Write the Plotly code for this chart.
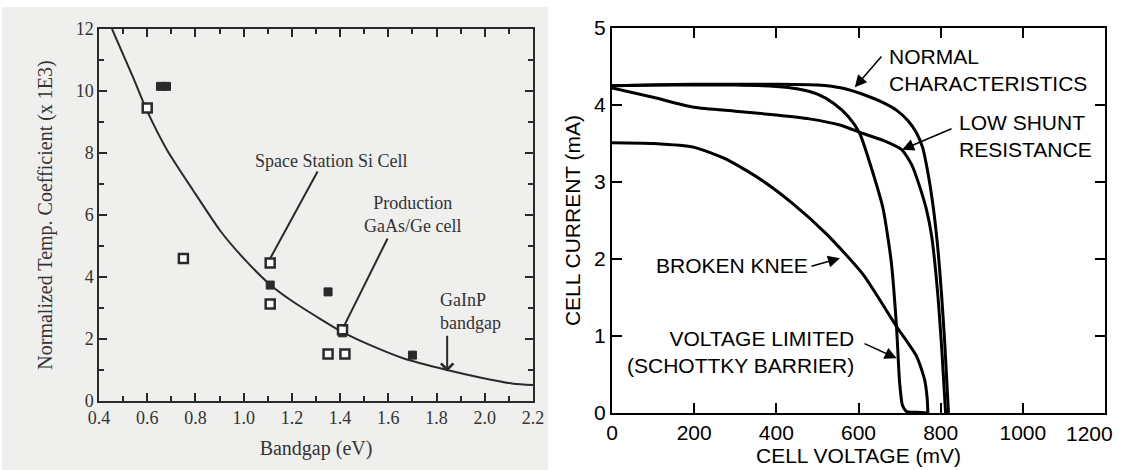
import plotly.graph_objects as go

# ---------------- Left panel data ----------------
fit_bandgap = [0.454, 0.541, 0.60, 0.682, 0.79, 0.902, 1.0, 1.11, 1.205, 1.317, 1.41, 1.525, 1.661, 1.844, 1.98, 2.118, 2.2]
fit_coeff = [12.0, 10.45, 9.35, 8.1, 6.8, 5.5, 4.6, 3.75, 3.2, 2.65, 2.22, 1.8, 1.38, 1.0, 0.76, 0.56, 0.52]

open_bandgap = [0.60, 0.75, 1.11, 1.11, 1.35, 1.41, 1.42]
open_coeff = [9.45, 4.6, 4.45, 3.13, 1.52, 2.3, 1.52]

filled_bandgap = [0.655, 0.68, 1.11, 1.35, 1.70, 1.41]
filled_coeff = [10.15, 10.15, 3.74, 3.52, 1.48, 2.2]

left_xticks = [0.4, 0.6, 0.8, 1.0, 1.2, 1.4, 1.6, 1.8, 2.0, 2.2]
left_xticklabels = ["0.4", "0.6", "0.8", "1.0", "1.2", "1.4", "1.6", "1.8", "2.0", "2.2"]
left_yticks = [0, 2, 4, 6, 8, 10, 12]

# ---------------- Right panel data ----------------
normal_v = [0, 100, 200, 300, 400, 500, 560, 620, 660, 693, 720, 740, 756, 768, 780, 792, 802, 810, 815, 819]
normal_i = [4.25, 4.26, 4.27, 4.27, 4.27, 4.26, 4.22, 4.12, 4.03, 3.93, 3.8, 3.65, 3.45, 3.15, 2.75, 2.2, 1.55, 0.9, 0.4, 0.0]

shunt_v = [0, 100, 200, 300, 400, 480, 555, 611, 660, 705, 730, 749, 765, 778, 792, 803, 812]
shunt_i = [4.22, 4.10, 3.97, 3.92, 3.87, 3.82, 3.74, 3.63, 3.54, 3.42, 3.22, 2.94, 2.65, 2.3, 1.6, 0.8, 0.0]

volt_v = [0, 100, 200, 300, 400, 450, 500, 540, 575, 603, 635, 660, 680, 693, 700, 707, 717, 740, 770]
volt_i = [4.25, 4.26, 4.26, 4.26, 4.24, 4.21, 4.14, 4.02, 3.85, 3.63, 3.12, 2.65, 1.95, 1.08, 0.4, 0.1, 0.02, 0.01, 0.0]

knee_v = [0, 100, 200, 280, 360, 440, 523, 611, 693, 742, 761, 767, 769]
knee_i = [3.51, 3.50, 3.45, 3.29, 3.04, 2.72, 2.32, 1.80, 1.12, 0.73, 0.43, 0.2, 0.0]

right_xticks = [0, 200, 400, 600, 800, 1000, 1200]
right_xticklabels = ["0", "200", "400", "600", "800", "1000", ""]   # last label placed as annotation (shifted inward)
right_yticks = [0, 1, 2, 3, 4, 5]

W, H = 1122, 470

def px_x(p):
    return p / W

def px_y(p):
    return 1 - p / H

SERIF = "Liberation Serif, Times New Roman, serif"
SANS = "Liberation Sans, Arial, Helvetica, sans-serif"
LCOL = "#2a2a2a"
TCOL = "#333333"

fig = go.Figure()

# Left panel traces
fig.add_trace(go.Scatter(x=fit_bandgap, y=fit_coeff, mode="lines", line=dict(color=LCOL, width=2, shape="spline", smoothing=0.6),
                         xaxis="x", yaxis="y", showlegend=False, hoverinfo="skip"))
fig.add_trace(go.Scatter(x=filled_bandgap, y=filled_coeff, mode="markers",
                         marker=dict(symbol="square", size=8, color=LCOL, line=dict(color=LCOL, width=1)),
                         xaxis="x", yaxis="y", showlegend=False))
fig.add_trace(go.Scatter(x=open_bandgap, y=open_coeff, mode="markers",
                         marker=dict(symbol="square", size=9, color="white", line=dict(color=LCOL, width=2.5)),
                         xaxis="x", yaxis="y", showlegend=False))

# Right panel traces
for vv, ii in [(normal_v, normal_i), (shunt_v, shunt_i), (volt_v, volt_i), (knee_v, knee_i)]:
    fig.add_trace(go.Scatter(x=vv, y=ii, mode="lines", line=dict(color="black", width=3, shape="spline", smoothing=0.6),
                             xaxis="x2", yaxis="y2", showlegend=False, hoverinfo="skip"))

# gray scanned background for left panel
shapes = [dict(type="rect", xref="paper", yref="paper", x0=px_x(2), x1=px_x(548), y0=0, y1=px_y(7),
               fillcolor="#efefed", line=dict(width=0), layer="below")]

annotations = []
# Left annotations
annotations.append(dict(x=1.04, y=7.75, xref="x", yref="y", text="Space Station Si Cell", showarrow=False,
                        xanchor="left", yanchor="middle", font=dict(family=SERIF, size=18, color=TCOL)))
annotations.append(dict(x=1.11, y=4.6, ax=1.31, ay=7.45, xref="x", yref="y", axref="x", ayref="y",
                        showarrow=True, arrowhead=0, arrowwidth=2, arrowcolor=LCOL, text=""))
annotations.append(dict(x=1.70, y=6.03, xref="x", yref="y", text="Production<br>GaAs/Ge cell", showarrow=False,
                        xanchor="center", yanchor="middle", align="center",
                        font=dict(family=SERIF, size=18, color=TCOL)))
annotations.append(dict(x=1.415, y=2.4, ax=1.60, ay=5.29, xref="x", yref="y", axref="x", ayref="y",
                        showarrow=True, arrowhead=0, arrowwidth=2, arrowcolor=LCOL, text=""))
annotations.append(dict(x=1.94, y=2.9, xref="x", yref="y", text="GaInP<br>bandgap", showarrow=False,
                        xanchor="center", yanchor="middle", align="left",
                        font=dict(family=SERIF, size=18, color=TCOL)))
annotations.append(dict(x=1.844, y=0.95, ax=1.844, ay=2.15, xref="x", yref="y", axref="x", ayref="y",
                        showarrow=True, arrowhead=4, arrowsize=1.2, arrowwidth=2, arrowcolor=LCOL, text=""))

# Right annotations
af = dict(family=SANS, size=21, color="black")
annotations.append(dict(x=670, y=4.45, xref="x2", yref="y2", text="NORMAL<br>CHARACTERISTICS", showarrow=False,
                        xanchor="left", yanchor="middle", align="left", font=af))
annotations.append(dict(x=591, y=4.23, ax=659, ay=4.65, xref="x2", yref="y2", axref="x2", ayref="y2",
                        showarrow=True, arrowhead=2, arrowsize=1.6, arrowwidth=1.5, arrowcolor="black", text=""))
annotations.append(dict(x=840, y=3.60, xref="x2", yref="y2", text="LOW SHUNT<br>RESISTANCE", showarrow=False,
                        xanchor="left", yanchor="middle", align="left", font=af))
annotations.append(dict(x=706, y=3.42, ax=830, ay=3.70, xref="x2", yref="y2", axref="x2", ayref="y2",
                        showarrow=True, arrowhead=2, arrowsize=1.6, arrowwidth=1.5, arrowcolor="black", text=""))
annotations.append(dict(x=482, y=1.92, xref="x2", yref="y2", text="BROKEN KNEE", showarrow=False,
                        xanchor="right", yanchor="middle", font=af))
annotations.append(dict(x=555, y=2.01, ax=482, ay=1.90, xref="x2", yref="y2", axref="x2", ayref="y2",
                        showarrow=True, arrowhead=2, arrowsize=1.6, arrowwidth=1.5, arrowcolor="black", text=""))
annotations.append(dict(x=593, y=0.79, xref="x2", yref="y2", text="VOLTAGE LIMITED<br>(SCHOTTKY BARRIER)",
                        showarrow=False, xanchor="right", yanchor="middle", align="right", font=af))
annotations.append(dict(x=693, y=0.71, ax=611, ay=0.91, xref="x2", yref="y2", axref="x2", ayref="y2",
                        showarrow=True, arrowhead=2, arrowsize=1.6, arrowwidth=1.5, arrowcolor="black", text=""))
# last x tick label of right panel, pulled inward so it fits the page
annotations.append(dict(x=right_xticks[-1], y=0, xref="x2", yref="y2", text=str(right_xticks[-1]), showarrow=False,
                        xanchor="right", yanchor="top", xshift=10, yshift=-7, font=dict(family=SANS, size=21, color="black")))

left_axis_common = dict(showgrid=False, zeroline=False, showline=True, linecolor=LCOL, linewidth=1.5,
                        mirror="ticks", ticks="inside", tickcolor=LCOL, tickwidth=1.5, ticklen=8,
                        automargin=False,
                        tickfont=dict(family=SERIF, size=18, color=TCOL))
right_axis_common = dict(showgrid=False, zeroline=False, showline=True, linecolor="black", linewidth=2,
                         mirror="ticks", ticks="inside", tickcolor="black", tickwidth=1.5, ticklen=10,
                         automargin=False,
                         tickfont=dict(family=SANS, size=21, color="black"))

fig.update_layout(
    width=W, height=H,
    margin=dict(l=0, r=0, t=0, b=0, autoexpand=False),
    paper_bgcolor="white", plot_bgcolor="rgba(0,0,0,0)",
    shapes=shapes, annotations=annotations,
    xaxis=dict(domain=[px_x(99), px_x(533)], range=[0.4, 2.2], anchor="y",
               tickvals=left_xticks, ticktext=left_xticklabels,
               minor=dict(dtick=0.1, ticks="inside", ticklen=5, tickcolor=LCOL, tickwidth=1.5),
               title=dict(text="Bandgap (eV)", font=dict(family=SERIF, size=20, color=TCOL), standoff=14),
               **left_axis_common),
    yaxis=dict(domain=[px_y(401), px_y(29)], range=[0, 12], anchor="x",
               tickvals=left_yticks,
               minor=dict(dtick=1, ticks="inside", ticklen=5, tickcolor=LCOL, tickwidth=1.5),
               title=dict(text="Normalized Temp. Coefficient (x 1E3)", font=dict(family=SERIF, size=20, color=TCOL), standoff=18),
               **left_axis_common),
    xaxis2=dict(domain=[px_x(612), px_x(1105)], range=[0, 1200], anchor="y2",
                tickvals=right_xticks, ticktext=right_xticklabels,
                title=dict(text="CELL VOLTAGE (mV)", font=dict(family=SANS, size=21, color="black"), standoff=4),
                **right_axis_common),
    yaxis2=dict(domain=[px_y(413), px_y(28)], range=[0, 5], anchor="x2",
                tickvals=right_yticks,
                title=dict(text="CELL CURRENT (mA)", font=dict(family=SANS, size=21, color="black"), standoff=8),
                **right_axis_common),
)

fig.write_html("out.html", config={"displayModeBar": False},
               post_script="document.body.style.margin='0';document.body.style.padding='0';document.body.style.overflow='hidden';")
